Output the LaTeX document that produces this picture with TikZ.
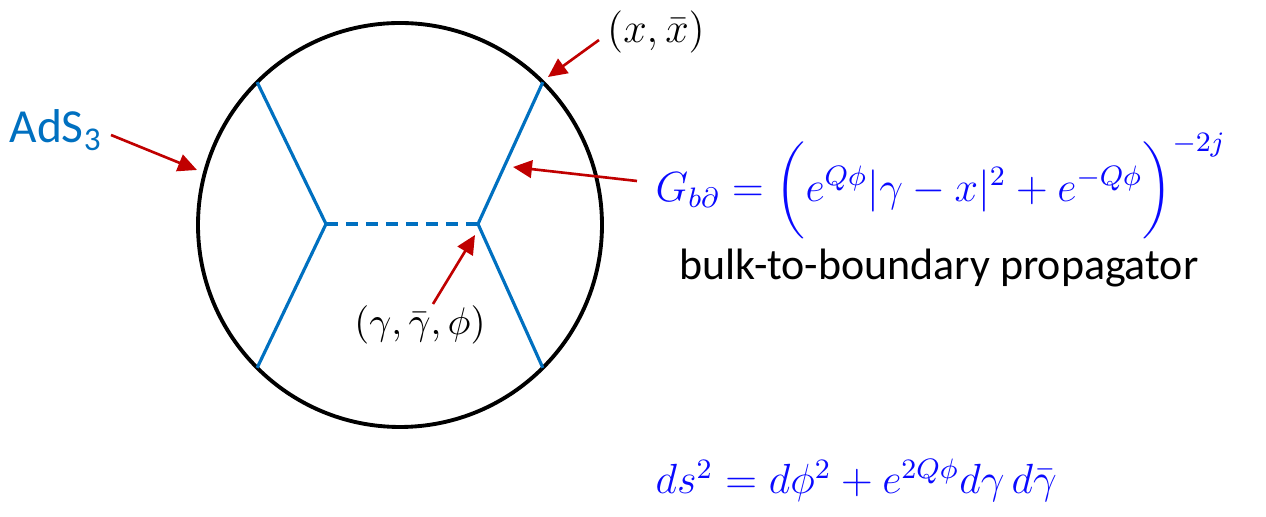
\documentclass[tikz,border=0pt]{standalone}
\usepackage{amsmath,amssymb}
\usepackage{fontspec}
\setsansfont{Carlito}
\usepackage{xcolor}
\usepackage{tikz}
\usetikzlibrary{positioning,arrows.meta,calc}
\definecolor{adsblue}{RGB}{0,112,192}
\definecolor{ptrred}{RGB}{192,0,0}
\definecolor{eqblue}{RGB}{10,10,255}

\begin{document}
\begin{tikzpicture}[
        edge/.style={adsblue, line width=0.9pt},
        ptr/.style={ptrred, line width=0.75pt,
                    -{Triangle[length=5.4pt,width=5pt]}},
        eq/.style={eqblue, inner sep=0pt, font=\fontsize{11.5}{14}\selectfont},
        txt/.style={inner sep=0pt, font=\sffamily\fontsize{12.5}{15}\selectfont}
      ]
        \useasboundingbox (0,0) rectangle (12.66,5.17);
        % boundary of AdS3
        \node[circle, draw, line width=1.1pt, minimum size=4.04cm,
              inner sep=0pt, outer sep=0pt] (bdy) at (4.00,2.92) {};
        \coordinate (vl) at (3.26,2.93);
        \coordinate (vr) at (4.78,2.93);
        \draw[edge] (bdy.135)--(vl)--(bdy.225);
        \draw[edge] (bdy.45)--(vr)--(bdy.-45);
        \draw[edge, dash pattern=on 0.12cm off 0.08cm] (vl)--(vr);
        % labels
        \node[txt, adsblue, font=\sffamily\fontsize{13.5}{16}\selectfont]
              (ads) at (0.56,3.87) {AdS\textsubscript{3}};
        \node[inner sep=0pt, font=\fontsize{11.5}{13}\selectfont]
              (xpt) at (6.56,4.85) {$(x,\bar{x})$};
        \node[inner sep=0pt, font=\fontsize{11}{13}\selectfont]
              (bpt) at (4.20,1.92) {$(\gamma,\bar{\gamma},\phi)$};
        \node[eq, anchor=west] (gbd) at (6.55,3.30)
              {$G_{b\partial}=\bigg(e^{Q\phi}|\gamma-x|^2+e^{-Q\phi}\bigg)^{-2j}$};
        \node[txt] (prop) at (9.39,2.49) {bulk-to-boundary propagator};
        \node[eq, anchor=west] (met) at (6.55,0.37)
              {$ds^2=d\phi^2+e^{2Q\phi}d\gamma\,d\bar{\gamma}$};
        % pointers
        \coordinate (adsT) at (1.11,3.82);
        \coordinate (adsH) at (1.97,3.47);
        \coordinate (xT)   at (5.99,4.77);
        \coordinate (xH)   at (5.48,4.40);
        \coordinate (gT)   at (6.37,3.36);
        \coordinate (gH)   at (5.13,3.50);
        \coordinate (bT)   at (4.33,2.13);
        \coordinate (bH)   at (4.75,2.82);
        \draw[ptr] (adsT)--(adsH);
        \draw[ptr] (xT)--(xH);
        \draw[ptr] (gT)--(gH);
        \draw[ptr] (bT)--(bH);
      \end{tikzpicture}
\end{document}
